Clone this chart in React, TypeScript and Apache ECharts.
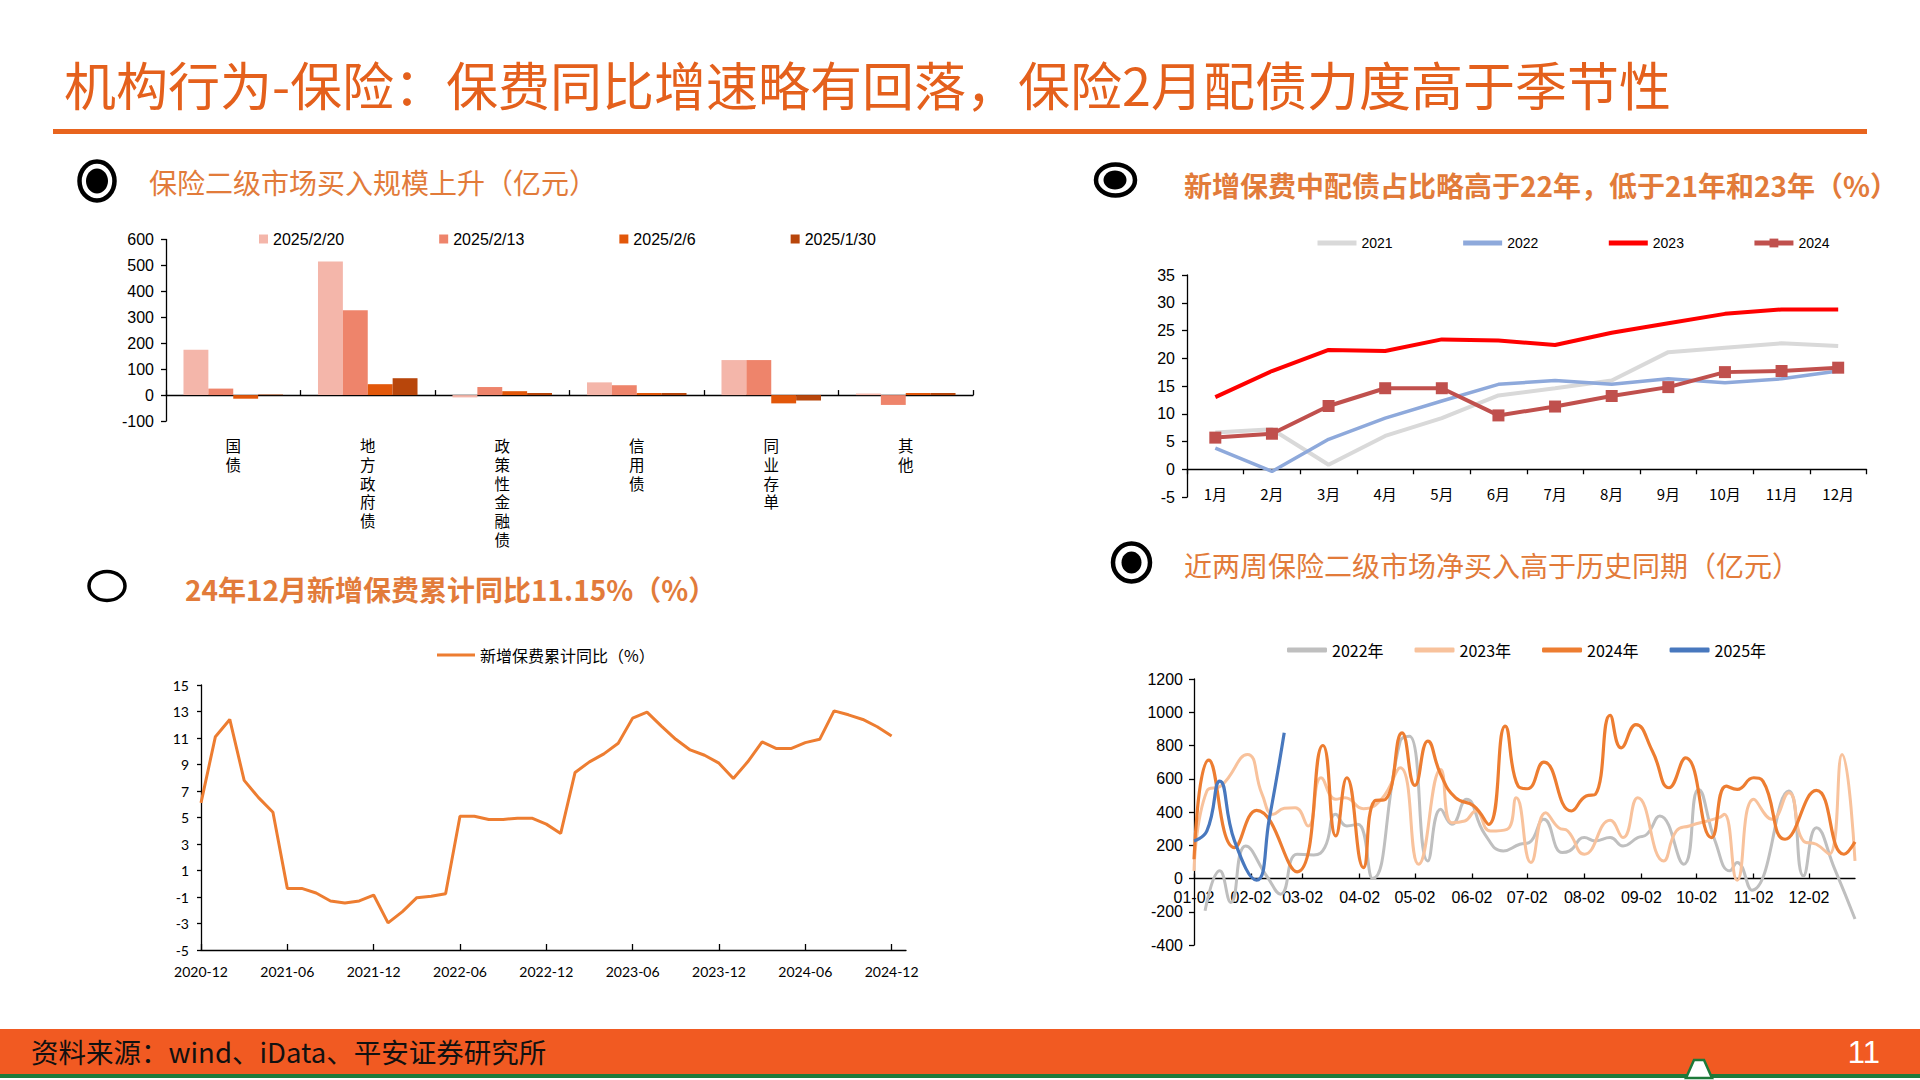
import React, { useEffect, useRef } from 'react';
import * as echarts from 'echarts';

// ---------- Chart 1: 保险二级市场买入规模 ----------
const barCategories = ['国债', '地方政府债', '政策性金融债', '信用债', '同业存单', '其他'];
const barWeeks = ['2025/2/20', '2025/2/13', '2025/2/6', '2025/1/30'];
const buy0220 = [175, 515, -9, 49, 135, 6];
const buy0213 = [25, 327, 31, 38, 135, -38];
const buy0206 = [-14, 42, 15, 8, -32, 8];
const buy0130 = [2, 65, 8, 8, -21, 8];
const barColors = ['#F4B6AA', '#EE846B', '#E2570A', '#B8460B'];

// ---------- Chart 2: 新增保费中配债占比 ----------
const monthNames = ['1月', '2月', '3月', '4月', '5月', '6月', '7月', '8月', '9月', '10月', '11月', '12月'];
const ratio2021 = [6.6, 7.2, 0.8, 6.0, 9.2, 13.3, 14.6, 16.0, 21.1, 21.9, 22.7, 22.2];
const ratio2022 = [3.8, -0.4, 5.4, 9.2, 12.3, 15.3, 16.0, 15.3, 16.3, 15.6, 16.3, 17.7];
const ratio2023 = [13.0, 17.7, 21.5, 21.3, 23.4, 23.2, 22.4, 24.6, 26.3, 28.0, 28.8, 28.8];
const ratio2024 = [5.7, 6.4, 11.4, 14.6, 14.6, 9.7, 11.3, 13.2, 14.8, 17.5, 17.7, 18.3];

// ---------- Chart 3: 新增保费累计同比 ----------
const premiumStart = [2020, 12];
const premiumEnd = [2024, 12];
const premiumYoY = [
  6.1,
  11.1, 12.4, 7.8, 6.5, 5.4, -0.35, -0.35, -0.7, -1.3, -1.45, -1.3, -0.85,
  -2.95, -2.1, -1.05, -0.95, -0.75, 5.1, 5.1, 4.85, 4.85, 4.95, 4.95, 4.5,
  3.8, 8.4, 9.2, 9.8, 10.6, 12.5, 12.95, 11.9, 10.9, 10.1, 9.7, 9.1,
  7.95, 9.2, 10.7, 10.2, 10.2, 10.65, 10.9, 13.05, 12.75, 12.4, 11.85, 11.15,
];

// ---------- Chart 4: 保险二级市场净买入 ----------
const dayStart = '01-02';
const dayEnd = '12-27';
const net2022: [string, number][] = [
  ['01-08', -194], ['01-16', 46], ['01-22', -144], ['01-30', 196], ['02-11', 6], ['02-18', -94],
  ['02-27', 146], ['03-08', 142], ['03-14', 186], ['03-20', 386], ['03-26', 316], ['04-01', 326],
  ['04-09', 0], ['04-24', 826], ['04-29', 856], ['05-09', 106], ['05-16', 416], ['05-22', 326],
  ['05-30', 476], ['06-09', 266], ['06-19', 166], ['06-28', 206], ['07-03', 216], ['07-11', 356],
  ['07-21', 156], ['07-25', 166], ['08-02', 246], ['08-08', 226], ['08-16', 246], ['08-23', 196],
  ['08-31', 246], ['09-05', 266], ['09-12', 376], ['09-25', 86], ['10-03', 536], ['10-12', 226],
  ['10-20', 46], ['10-24', 96], ['11-01', -70], ['11-21', 526], ['11-29', 16], ['12-06', 306],
  ['12-16', 56], ['12-27', -244],
];
const net2023: [string, number][] = [
  ['01-02', 46], ['01-09', 526], ['01-17', 560], ['01-31', 746], ['02-08', 506], ['02-14', 386],
  ['02-20', 422], ['02-26', 426], ['03-05', 316], ['03-12', 606], ['03-20', 476], ['03-25', 486],
  ['04-04', 420], ['04-14', 480], ['04-24', 666], ['05-04', 86], ['05-16', 656], ['05-22', 336],
  ['05-29', 346], ['06-04', 406], ['06-12', 286], ['06-21', 296], ['06-26', 486], ['07-04', 96],
  ['07-12', 396], ['07-19', 306], ['07-24', 286], ['08-02', 146], ['08-16', 350], ['08-23', 246],
  ['08-31', 486], ['09-14', 106], ['09-21', 286], ['09-28', 316], ['10-14', 366], ['10-17', 386],
  ['10-24', -10], ['11-02', 476], ['11-12', 356], ['11-21', 516], ['11-29', 226], ['12-06', 206],
  ['12-13', 146], ['12-20', 746], ['12-27', 106],
];
const net2024: [string, number][] = [
  ['01-02', 116], ['01-10', 712], ['01-24', 186], ['02-05', 410], ['02-27', 40], ['03-13', 800],
  ['03-20', 256], ['03-26', 606], ['04-04', 66], ['04-10', 466], ['04-16', 476], ['04-25', 876],
  ['05-02', 560], ['05-09', 826], ['05-16', 626], ['05-24', 486], ['06-03', 436], ['06-11', 326],
  ['06-20', 916], ['06-27', 556], ['07-02', 540], ['07-11', 700], ['07-26', 406], ['08-03', 496],
  ['08-08', 506], ['08-16', 982], ['08-22', 786], ['08-30', 926], ['09-08', 766], ['09-17', 546],
  ['09-26', 726], ['10-10', 246], ['10-18', 556], ['10-24', 536], ['11-02', 606], ['11-07', 586],
  ['11-19', 236], ['12-06', 530], ['12-21', 146], ['12-27', 220],
];
const net2025: [string, number][] = [
  ['01-02', 226], ['01-09', 286], ['01-16', 586], ['01-24', 226], ['02-05', -10], ['02-12', 366],
  ['02-20', 876],
];

// ---------- helpers to build category lists ----------
const MONTH_LENGTHS = [31, 28, 31, 30, 31, 30, 31, 31, 30, 31, 30, 31];
const pad = (n: number) => String(n).padStart(2, '0');
function dayCategories(from: string, to: string): string[] {
  const out: string[] = [];
  let [m, d] = from.split('-').map(Number);
  const [em, ed] = to.split('-').map(Number);
  while (m <= 12) {
    out.push(`${pad(m)}-${pad(d)}`);
    if (m === em && d === ed) break;
    d++;
    if (d > MONTH_LENGTHS[m - 1]) { d = 1; m++; }
  }
  return out;
}
function monthCategories(from: number[], to: number[]): string[] {
  const out: string[] = [];
  let [y, m] = from;
  while (y < to[0] || (y === to[0] && m <= to[1])) {
    out.push(`${y}-${pad(m)}`);
    m++;
    if (m > 12) { m = 1; y++; }
  }
  return out;
}

const CN = '"Noto Sans CJK SC", "Noto Sans", sans-serif';
const LAT = '"Liberation Sans", Arial, sans-serif';
const CAL = 'Lato, "Liberation Sans", sans-serif';
const TITLE_COLOR = '#E4601C';
const HEAD_COLOR = '#E27B3A';
const axisLineStyle = { color: '#000', width: 1.3 };

export default function App() {
  const ref = useRef<HTMLDivElement>(null);

  useEffect(() => {
    if (!ref.current) return;
    const chart = echarts.init(ref.current, undefined, { renderer: 'svg' });
    const days = dayCategories(dayStart, dayEnd);
    const premiumCats = [...monthCategories(premiumStart, premiumEnd), ''];
    const dayTick = (_i: number, v: string) => v.endsWith('-02');
    const plain = (v: number) => String(v);

    const header = (x: number, y: number, text: string, bold: boolean) => ({
      type: 'text', x, y, silent: true,
      style: { text, fill: HEAD_COLOR, fontSize: 28, fontFamily: CN, fontWeight: bold ? 'bold' : 'normal', align: 'left', verticalAlign: 'middle' },
    });
    const ring = (cx: number, cy: number, rx: number, ry: number, lw: number) => ({
      type: 'ellipse', silent: true, shape: { cx, cy, rx, ry }, style: { fill: 'none', stroke: '#000', lineWidth: lw },
    });
    const dot = (cx: number, cy: number, rx: number, ry: number) => ({
      type: 'ellipse', silent: true, shape: { cx, cy, rx, ry }, style: { fill: '#000' },
    });
    const lineOnly = (name: string) => ({ name, itemStyle: { opacity: 0 }, lineStyle: { width: 5 } });

    const option: any = {
      animation: false,
      backgroundColor: '#fff',
      textStyle: { fontFamily: LAT, color: '#000' },
      grid: [
        { left: 166, top: 239.5, width: 807, height: 181.5 },
        { left: 1187, top: 275, width: 679.5, height: 222 },
        { left: 201, top: 685, width: 705, height: 265 },
        { left: 1194, top: 679, width: 661, height: 266 },
      ],
      legend: [
        {
          data: barWeeks, left: 254, top: 226, icon: 'rect', itemWidth: 9, itemHeight: 9, itemGap: 95,
          textStyle: { fontSize: 16, fontFamily: LAT, color: '#000' },
        },
        {
          data: [lineOnly('2021'), lineOnly('2022'), lineOnly('2023'), { name: '2024', lineStyle: { width: 5 } }],
          left: 1310, top: 231, itemWidth: 39, itemHeight: 11, itemGap: 68,
          textStyle: { fontSize: 14, fontFamily: LAT, color: '#000' },
        },
        {
          data: ['新增保费累计同比（%）'], left: 432, top: 642, icon: 'rect', itemWidth: 38, itemHeight: 3,
          textStyle: { fontSize: 16, fontFamily: CN, color: '#000' },
        },
        {
          data: ['2022年', '2023年', '2024年', '2025年'], left: 1282, top: 637, icon: 'roundRect',
          itemWidth: 40, itemHeight: 5, itemGap: 31,
          textStyle: { fontSize: 16, fontFamily: CN, color: '#000' },
        },
      ],
      xAxis: [
        {
          gridIndex: 0, type: 'category', data: barCategories, position: 'bottom',
          axisLine: { show: false, onZero: false }, axisTick: { show: false },
          axisLabel: {
            interval: 0, margin: 15, fontSize: 15.5, lineHeight: 18.7, fontFamily: CN, color: '#000',
            formatter: (v: string) => v.split('').join('\n'),
          },
        },
        {
          gridIndex: 0, type: 'category', data: barCategories, position: 'bottom',
          axisLine: { show: true, onZero: true, lineStyle: axisLineStyle },
          axisTick: { show: true, inside: true, length: 5, lineStyle: axisLineStyle },
          axisLabel: { show: false },
        },
        {
          gridIndex: 1, type: 'category', data: monthNames, position: 'bottom',
          axisLine: { show: false, onZero: false }, axisTick: { show: false },
          axisLabel: { interval: 0, margin: -11, fontSize: 15, fontFamily: CN, color: '#000' },
        },
        {
          gridIndex: 1, type: 'category', data: monthNames, position: 'bottom',
          axisLine: { show: true, onZero: true, lineStyle: axisLineStyle },
          axisTick: { show: true, length: 5, lineStyle: axisLineStyle },
          axisLabel: { show: false },
        },
        {
          gridIndex: 2, type: 'category', data: premiumCats, position: 'bottom', boundaryGap: false,
          axisLine: { show: true, onZero: false, lineStyle: axisLineStyle },
          axisTick: { show: true, inside: true, length: 6, interval: 5, lineStyle: axisLineStyle },
          axisLabel: { interval: 5, margin: 14, fontSize: 14, fontFamily: CAL, color: '#000' },
        },
        {
          gridIndex: 3, type: 'category', data: days, position: 'bottom', boundaryGap: false,
          axisLine: { show: false, onZero: false }, axisTick: { show: false },
          axisLabel: { interval: dayTick, margin: -56, fontSize: 16, fontFamily: LAT, color: '#000' },
        },
        {
          gridIndex: 3, type: 'category', data: days, position: 'bottom', boundaryGap: false,
          axisLine: { show: true, onZero: true, lineStyle: axisLineStyle },
          axisTick: { show: true, inside: true, length: 5, interval: dayTick, lineStyle: axisLineStyle },
          axisLabel: { show: false },
        },
      ],
      yAxis: [
        {
          gridIndex: 0, type: 'value', min: -100, max: 600, interval: 100, splitLine: { show: false },
          axisLine: { show: true, lineStyle: axisLineStyle }, axisTick: { show: true, length: 5, lineStyle: axisLineStyle },
          axisLabel: { fontSize: 16, margin: 12, color: '#000', fontFamily: LAT, formatter: plain },
        },
        {
          gridIndex: 1, type: 'value', min: -5, max: 35, interval: 5, splitLine: { show: false },
          axisLine: { show: true, lineStyle: axisLineStyle }, axisTick: { show: true, length: 5, lineStyle: axisLineStyle },
          axisLabel: { fontSize: 16, margin: 12, color: '#000', fontFamily: LAT, formatter: plain },
        },
        {
          gridIndex: 2, type: 'value', min: -5, max: 15, interval: 2, splitLine: { show: false },
          axisLine: { show: true, lineStyle: axisLineStyle }, axisTick: { show: true, length: 4, lineStyle: axisLineStyle },
          axisLabel: { fontSize: 14, margin: 12, color: '#000', fontFamily: CAL, formatter: plain },
        },
        {
          gridIndex: 3, type: 'value', min: -400, max: 1200, interval: 200, splitLine: { show: false },
          axisLine: { show: true, lineStyle: axisLineStyle }, axisTick: { show: true, length: 5, lineStyle: axisLineStyle },
          axisLabel: { fontSize: 16, margin: 11, color: '#000', fontFamily: LAT, formatter: plain },
        },
      ],
      series: [
        ...[buy0220, buy0213, buy0206, buy0130].map((d, i) => ({
          name: barWeeks[i], type: 'bar', xAxisIndex: 0, yAxisIndex: 0, data: d,
          barGap: '0%', barCategoryGap: '26%', itemStyle: { color: barColors[i] },
        })),
        { name: '2021', type: 'line', xAxisIndex: 2, yAxisIndex: 1, data: ratio2021, symbol: 'none', lineStyle: { color: '#D9D9D9', width: 4 }, itemStyle: { color: '#D9D9D9' } },
        { name: '2022', type: 'line', xAxisIndex: 2, yAxisIndex: 1, data: ratio2022, symbol: 'none', lineStyle: { color: '#8EA9DB', width: 3.5 }, itemStyle: { color: '#8EA9DB' } },
        { name: '2023', type: 'line', xAxisIndex: 2, yAxisIndex: 1, data: ratio2023, symbol: 'none', lineStyle: { color: '#FF0000', width: 4 }, itemStyle: { color: '#FF0000' } },
        { name: '2024', type: 'line', xAxisIndex: 2, yAxisIndex: 1, data: ratio2024, symbol: 'rect', symbolSize: 12, lineStyle: { color: '#C0504D', width: 4 }, itemStyle: { color: '#C0504D' } },
        { name: '新增保费累计同比（%）', type: 'line', xAxisIndex: 4, yAxisIndex: 2, data: premiumYoY, symbol: 'none', lineStyle: { color: '#ED7D31', width: 3 }, itemStyle: { color: '#ED7D31' } },
        { name: '2022年', type: 'line', xAxisIndex: 5, yAxisIndex: 3, data: net2022, symbol: 'none', smooth: 0.5, lineStyle: { color: '#BFBFBF', width: 3 }, itemStyle: { color: '#BFBFBF' } },
        { name: '2023年', type: 'line', xAxisIndex: 5, yAxisIndex: 3, data: net2023, symbol: 'none', smooth: 0.5, lineStyle: { color: '#F8C29C', width: 3 }, itemStyle: { color: '#F8C29C' } },
        { name: '2024年', type: 'line', xAxisIndex: 5, yAxisIndex: 3, data: net2024, symbol: 'none', smooth: 0.5, lineStyle: { color: '#ED7D31', width: 3.2 }, itemStyle: { color: '#ED7D31' } },
        { name: '2025年', type: 'line', xAxisIndex: 5, yAxisIndex: 3, data: net2025, symbol: 'none', smooth: 0.5, lineStyle: { color: '#4878BE', width: 3.2 }, itemStyle: { color: '#4878BE' } },
      ],
      graphic: [
        {
          type: 'text', x: 64, y: 83, silent: true,
          style: { text: '机构行为-保险：保费同比增速略有回落，保险2月配债力度高于季节性', fill: TITLE_COLOR, fontSize: 52, fontFamily: CN, align: 'left', verticalAlign: 'middle' },
        },
        { type: 'rect', silent: true, shape: { x: 53, y: 129, width: 1814, height: 5 }, style: { fill: '#E8641E' } },
        ring(97, 181, 17.5, 19.5, 4.5), dot(97, 181, 11, 12.5),
        header(149, 182, '保险二级市场买入规模上升（亿元）', false),
        ring(1115.5, 180, 19.5, 15.5, 4.5), dot(1115, 180, 11.5, 9.5),
        header(1184, 185, '新增保费中配债占比略高于22年，低于21年和23年（%）', true),
        ring(107, 586, 18, 14.5, 3.5),
        header(185, 589, '24年12月新增保费累计同比11.15%（%）', true),
        ring(1131.5, 562.5, 18.5, 19, 4.5), dot(1131.5, 562.5, 10, 11),
        header(1184, 565, '近两周保险二级市场净买入高于历史同期（亿元）', false),
        { type: 'rect', silent: true, shape: { x: 0, y: 1029, width: 1920, height: 45 }, style: { fill: '#F15A22' } },
        { type: 'rect', silent: true, shape: { x: 0, y: 1074, width: 1920, height: 4 }, style: { fill: '#1D7A3A' } },
        {
          type: 'polygon', silent: true,
          shape: { points: [[1686, 1078], [1694, 1060], [1704, 1060], [1712, 1078]] },
          style: { fill: '#fff', stroke: '#1D7A3A', lineWidth: 2.5 },
        },
        {
          type: 'text', x: 31, y: 1051, silent: true,
          style: { text: '资料来源：wind、iData、平安证券研究所', fill: '#111', fontSize: 27.5, fontFamily: CN, align: 'left', verticalAlign: 'middle' },
        },
        {
          type: 'text', x: 1880, y: 1052, silent: true,
          style: { text: '11', fill: '#fff', fontSize: 31, fontFamily: LAT, align: 'right', verticalAlign: 'middle' },
        },
      ],
    };
    chart.setOption(option);
    return () => chart.dispose();
  }, []);

  return <div ref={ref} style={{ position: 'absolute', left: 0, top: 0, width: 1920, height: 1080 }} />;
}
